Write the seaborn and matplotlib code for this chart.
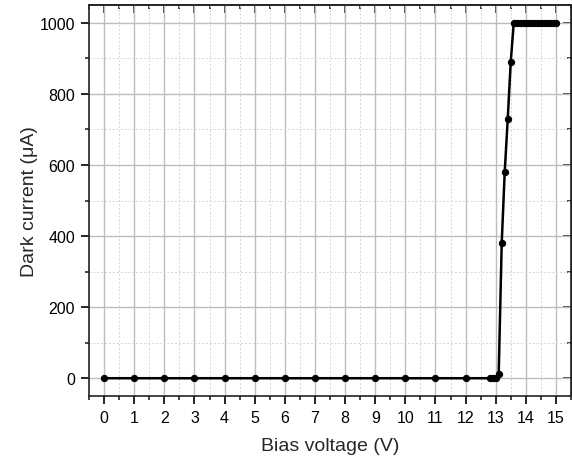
import numpy as np
import pandas as pd
import matplotlib
matplotlib.use("Agg")
import matplotlib.pyplot as plt
from matplotlib.ticker import MultipleLocator
import seaborn as sns

# bias voltage (V) and dark current (uA)
voltage = [0, 1, 2, 3, 4, 5, 6, 7, 8, 9, 10, 11, 12, 12.8, 12.9, 13.0,
           13.1, 13.2, 13.3, 13.4, 13.5, 13.6, 13.7, 13.8, 13.9, 14.0,
           14.1, 14.2, 14.3, 14.4, 14.5, 14.6, 14.7, 14.8, 14.9, 15.0]
current = [0, 0, 0, 0, 0, 0, 0, 0, 0, 0, 0, 0, 0, 0, 0, 0,
           12, 380, 580, 730, 890, 1000, 1000, 1000, 1000, 1000,
           1000, 1000, 1000, 1000, 1000, 1000, 1000, 1000, 1000, 1000]

df = pd.DataFrame({"V": voltage, "I": current})

sns.set_style("ticks")
plt.rcParams["font.family"] = ["Liberation Sans", "DejaVu Sans"]

fig = plt.figure(figsize=(5.72, 4.6), dpi=100)
ax = fig.add_axes([89 / 572, 63 / 460, 482 / 572, 391 / 460])

sns.lineplot(x="V", y="I", data=df, ax=ax, color="black", linewidth=1.8,
             marker="o", markersize=4.5, markeredgecolor="black")

ax.set_xlim(-0.5, 15.5)
ax.set_ylim(-50, 1050)
ax.xaxis.set_major_locator(MultipleLocator(1))
ax.xaxis.set_minor_locator(MultipleLocator(0.5))
ax.yaxis.set_major_locator(MultipleLocator(200))
ax.yaxis.set_minor_locator(MultipleLocator(100))

ax.grid(which="major", color="#bdbdbd", linewidth=1.0, linestyle="-")
ax.grid(which="minor", color="#d6d6d6", linewidth=0.7, linestyle=(0, (2, 2)))
ax.set_axisbelow(True)

ax.tick_params(which="major", direction="out", length=6, width=1.2, pad=4,
               labelsize=11.5, colors="black")
ax.tick_params(which="minor", direction="out", length=3, width=1.2)
for s in ax.spines.values():
    s.set_linewidth(1.2)
    s.set_color("#222222")

top = ax.secondary_xaxis("top")
top.xaxis.set_major_locator(MultipleLocator(1))
top.xaxis.set_minor_locator(MultipleLocator(0.5))
top.tick_params(which="major", direction="in", length=6, width=1.2, labeltop=False)
top.tick_params(which="minor", direction="in", length=3, width=1.2)
top.spines["top"].set_linewidth(1.2)
right = ax.secondary_yaxis("right")
right.yaxis.set_major_locator(MultipleLocator(200))
right.yaxis.set_minor_locator(MultipleLocator(100))
right.tick_params(which="major", direction="in", length=6, width=1.2, labelright=False)
right.tick_params(which="minor", direction="in", length=3, width=1.2)

ax.set_xlabel("Bias voltage (V)", fontsize=14, labelpad=9)
ax.set_ylabel("Dark current (μA)", fontsize=14, labelpad=1)

fig.savefig("out.png", dpi=100)
